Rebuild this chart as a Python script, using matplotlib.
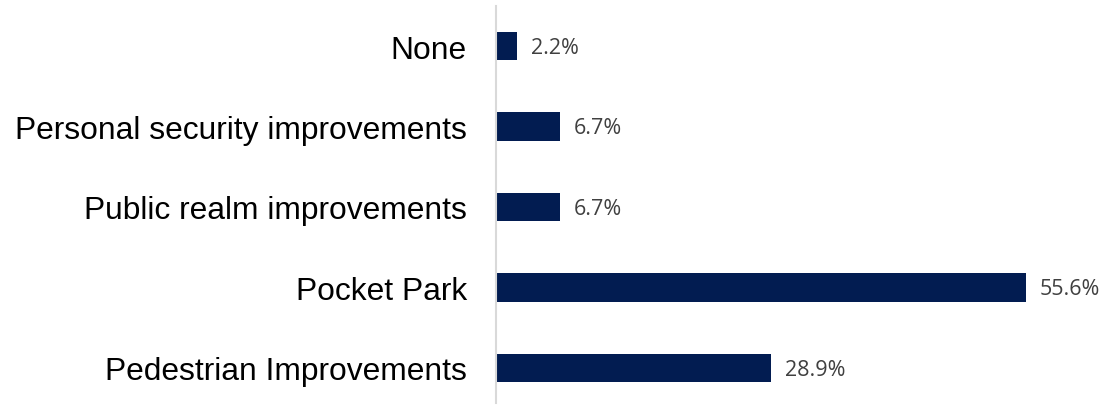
import numpy as np
from matplotlib import pyplot as plt

# survey answers, bottom to top as drawn
categories = ['Pedestrian Improvements', 'Pocket Park', 'Public realm improvements',
              'Personal security improvements', 'None']
values = [28.9, 55.6, 6.7, 6.7, 2.2]
value_labels = ['28.9%', '55.6%', '6.7%', '6.7%', '2.2%']


def main():
    fig = plt.figure(figsize=(11.05, 4.06), dpi=100)
    ax = fig.add_axes([496 / 1105, 2 / 406, 1 - 496 / 1105, 397 / 406])

    y = np.arange(len(categories))
    ax.barh(y, values, height=0.35, color='#021C51')

    for yi, v, lab in zip(y, values, value_labels):
        ax.annotate(lab, (v, yi), xytext=(10, -1), textcoords='offset points',
                    ha='left', va='center', fontsize=15.5, color='#404040',
                    family='Open Sans', annotation_clip=False)

    ax.set_xlim(0, 63.9)
    ax.set_ylim(-0.435, 4.497)
    ax.set_yticks(y)
    ax.set_yticklabels(categories, fontsize=22.9, family='Liberation Sans', color='black')
    ax.tick_params(axis='y', length=0, pad=21)
    ax.set_xticks([])

    for side in ['top', 'right', 'bottom']:
        ax.spines[side].set_visible(False)
    ax.spines['left'].set_color('#d9d9d9')
    ax.spines['left'].set_linewidth(1.5)

    fig.savefig('out.png', dpi=100)


if __name__ == '__main__':
    main()
